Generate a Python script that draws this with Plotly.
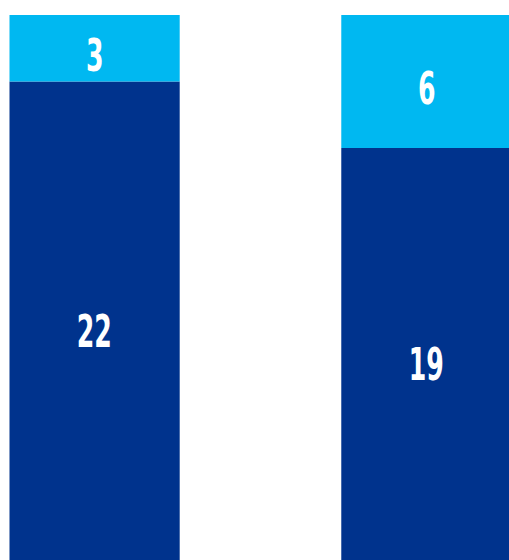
import plotly.graph_objects as go

# Two stacked columns: lower (dark) and upper (light) segments
positions = [0, 1]
lower_values = [22, 19]
upper_values = [3, 6]

dark_blue = "#00338D"
light_blue = "#00B8F1"

fig = go.Figure()
fig.add_bar(x=positions, y=lower_values, marker=dict(color=dark_blue, line=dict(width=0)),
            width=0.513, hoverinfo="skip")
fig.add_bar(x=positions, y=upper_values, base=lower_values,
            marker=dict(color=light_blue, line=dict(width=0)),
            width=0.513, hoverinfo="skip")

label_font = dict(family="DejaVu Sans, sans-serif", size=45, color="white", weight="bold")

# Segment labels, placed at the middle of each segment
for xp, lo, up in zip(positions, lower_values, upper_values):
    fig.add_annotation(x=xp, y=lo / 2, text=str(lo), showarrow=False,
                       font=label_font, yshift=-6)
    fig.add_annotation(x=xp, y=lo + up / 2, text=str(up), showarrow=False,
                       font=label_font, yshift=-7)

fig.update_layout(
    barmode="overlay",
    width=509, height=560,
    margin=dict(l=0, r=0, t=0, b=0),
    paper_bgcolor="white", plot_bgcolor="white",
    showlegend=False,
    xaxis=dict(range=[-0.2851, 1.249], visible=False, fixedrange=True),
    yaxis=dict(range=[0.395, 25.677], visible=False, fixedrange=True),
)

# Narrow the label glyphs into a condensed display style
condense_labels = """
var gd = document.getElementById('{plot_id}');
function condense() {
  gd.querySelectorAll('.annotation-text').forEach(function (t) {
    t.style.transformBox = 'fill-box';
    t.style.transformOrigin = '50% 50%';
    t.style.transform = 'scaleX(0.56)';
  });
}
condense();
gd.on('plotly_afterplot', condense);
"""

fig.write_html("out.html", post_script=condense_labels)
